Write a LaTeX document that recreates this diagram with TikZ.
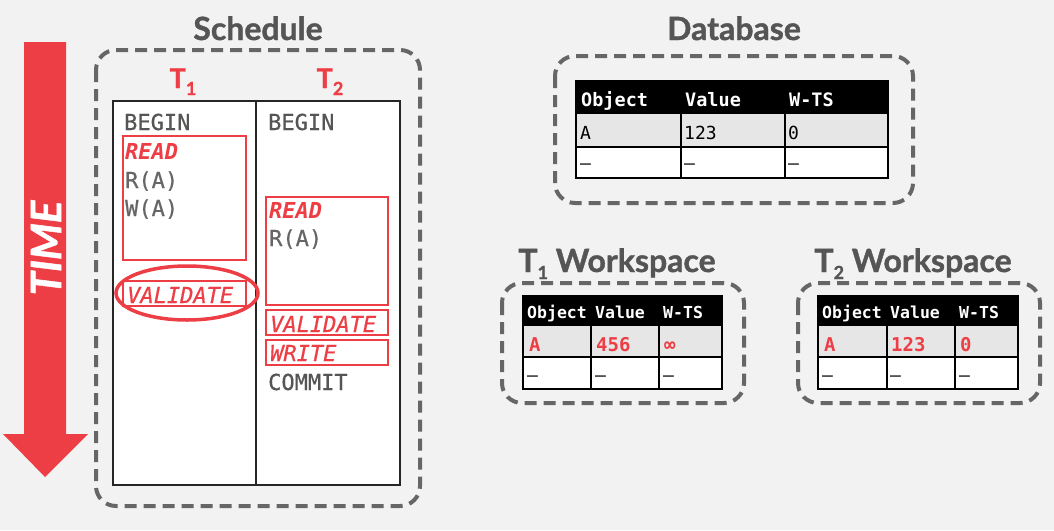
\documentclass[tikz,border=0pt]{standalone}
\usepackage{fontspec}
\setmainfont{Lato}
\newfontfamily\heavy[BoldFeatures={FakeBold=1.2}, BoldItalicFeatures={FakeBold=1.2}]{Lato}
\newfontfamily\mono{DejaVu Sans Mono}
\newfontfamily\monomed[FakeBold=0.6]{DejaVu Sans Mono}
\definecolor{bg}{HTML}{F2F2F2}
\definecolor{accent}{HTML}{EE3E45}
\definecolor{ink}{HTML}{555555}
\definecolor{soft}{HTML}{666666}
\definecolor{dash}{HTML}{666666}
\definecolor{rowgray}{HTML}{E6E6E6}
\tikzset{
  dashbox/.style={draw=dash, line width=4pt, dash pattern=on 12pt off 7pt, rounded corners=20pt},
  title/.style={font=\heavy\fontsize{32}{32}\selectfont\bfseries, text=ink, anchor=base, inner sep=0pt},
  tlabel/.style={font=\heavy\fontsize{27}{27}\selectfont\bfseries, text=accent, anchor=base, inner sep=0pt},
  op/.style={font=\monomed\fontsize{22}{22}\selectfont, anchor=base west, inner sep=0pt},
  phase/.style={font=\monomed\fontsize{22}{22}\selectfont\itshape, text=accent, anchor=base west, inner sep=0pt},
  phasebox/.style={draw=accent, line width=1.2pt, fill=white},
  hdr/.style={font=\mono\fontsize{18.5}{18.5}\selectfont\bfseries, text=white, anchor=base west, inner sep=0pt},
  cell/.style={font=\mono\fontsize{18}{18}\selectfont, text=black, anchor=base west, inner sep=0pt},
  whdr/.style={font=\mono\fontsize{16.5}{16.5}\selectfont\bfseries, text=white, anchor=base west, inner sep=0pt},
  wcell/.style={font=\mono\fontsize{19}{19}\selectfont\bfseries, text=accent, anchor=base west, inner sep=0pt},
  wdash/.style={font=\mono\fontsize{18}{18}\selectfont, text=black, anchor=base west, inner sep=0pt},
  grid/.style={draw=black, line width=2pt},
}
\newcommand\sub[1]{{\fontsize{18}{18}\selectfont\raisebox{-7pt}{#1}}}
\begin{document}
\begin{tikzpicture}[x=1pt, y=-1pt]
\useasboundingbox (0,0) rectangle (1054,530);
\fill[bg] (0,0) rectangle (1054,530);

% time arrow
\fill[accent] (24,42) -- (66,42) -- (66,434) -- (88,434) -- (45,477) -- (3,434) -- (24,434) -- cycle;
\node (time) [rotate=90, text=white, font=\heavy\fontsize{42}{42}\selectfont\bfseries\itshape, inner sep=0pt] at (46,248) {TIME};

% schedule
\node (schedtitle) [title] at (258,40) {Schedule};
\draw[dashbox] (96,50) rectangle (420,506);
\node (t1) [tlabel] at (183,88) {T\sub{1}};
\node (t2) [tlabel] at (330,88) {T\sub{2}};
\draw[fill=white, draw=black!85, line width=1.2pt] (113,101) rectangle (400,485);
\draw[black!85, line width=1.2pt] (256,101) -- (256,485);

% T1 column
\node (b1) [op, text=ink] at (124,130) {BEGIN};
\draw[phasebox] (123,136) rectangle (246,260);
\node (r1) [phase, font=\mono\fontsize{22}{22}\selectfont\bfseries\itshape] at (125,159) {READ};
\node (ra1) [op, text=soft] at (125,188) {R(A)};
\node (wa1) [op, text=soft] at (125,216) {W(A)};
\draw[phasebox] (123,281) rectangle (246,306);
\node (v1) [phase] at (127,303) {VALIDATE};
\draw[accent, line width=3.5pt] (187,293) ellipse [x radius=71, y radius=27];

% T2 column
\node (b2) [op, text=ink] at (268,130) {BEGIN};
\draw[phasebox] (266,197) rectangle (388,305);
\node (r2) [phase, font=\mono\fontsize{22}{22}\selectfont\bfseries\itshape] at (269,218) {READ};
\node (ra2) [op, text=soft] at (269,246) {R(A)};
\draw[phasebox] (266,310) rectangle (388,335);
\node (v2) [phase] at (270,332) {VALIDATE};
\draw[phasebox] (266,340) rectangle (388,365);
\node (w2) [phase] at (270,361) {WRITE};
\node (c2) [op, text=ink] at (268,390) {COMMIT};

% database
\node (dbtitle) [title] at (734,40) {Database};
\draw[dashbox] (555,56) rectangle (913,203);
\fill[black] (576,81) rectangle (888,113);
\fill[rowgray] (576,113) rectangle (888,147);
\fill[white] (576,147) rectangle (888,178);
\draw[grid] (576,81) rectangle (888,178);
\draw[grid] (576,113) -- (888,113) (576,147) -- (888,147);
\draw[grid] (681,113) -- (681,178) (785,113) -- (785,178);
\node (dbh1) [hdr] at (581,106) {Object};
\node (dbh2) [hdr] at (685,106) {Value};
\node (dbh3) [hdr] at (789,106) {W-TS};
\node (dba1) [cell] at (580,139) {A};
\node (dba2) [cell] at (684,139) {123};
\node (dba3) [cell] at (788,139) {0};
\node (dbd1) [cell] at (580,169) {–};
\node (dbd2) [cell] at (684,169) {–};
\node (dbd3) [cell] at (788,169) {–};

% T1 workspace
\node (w1title) [title] at (617,272) {T\sub{1} Workspace};
\draw[dashbox] (502,283) rectangle (744,403);
\fill[black] (523,296) rectangle (722,325);
\fill[rowgray] (523,325) rectangle (722,357);
\fill[white] (523,357) rectangle (722,389);
\draw[grid] (523,296) rectangle (722,389);
\draw[grid] (523,325) -- (722,325) (523,357) -- (722,357);
\draw[grid] (591,325) -- (591,389) (659,325) -- (659,389);
\node (w1h1) [whdr] at (527,318) {Object};
\node (w1h2) [whdr] at (595,318) {Value};
\node (w1h3) [whdr] at (663,318) {W-TS};
\node (w1a1) [wcell] at (529,351) {A};
\node (w1a2) [wcell] at (596,351) {456};
\node (w1a3) [wcell] at (664,351) {∞};
\node (w1d1) [wdash] at (527,381) {–};
\node (w1d2) [wdash] at (595,381) {–};
\node (w1d3) [wdash] at (663,381) {–};

% T2 workspace
\node (w2title) [title] at (913,272) {T\sub{2} Workspace};
\draw[dashbox] (798,283) rectangle (1040,403);
\fill[black] (818,296) rectangle (1018,325);
\fill[rowgray] (818,325) rectangle (1018,357);
\fill[white] (818,357) rectangle (1018,389);
\draw[grid] (818,296) rectangle (1018,389);
\draw[grid] (818,325) -- (1018,325) (818,357) -- (1018,357);
\draw[grid] (887,325) -- (887,389) (955,325) -- (955,389);
\node (w2h1) [whdr] at (822,318) {Object};
\node (w2h2) [whdr] at (890,318) {Value};
\node (w2h3) [whdr] at (959,318) {W-TS};
\node (w2a1) [wcell] at (824,351) {A};
\node (w2a2) [wcell] at (891,351) {123};
\node (w2a3) [wcell] at (960,351) {0};
\node (w2d1) [wdash] at (822,381) {–};
\node (w2d2) [wdash] at (890,381) {–};
\node (w2d3) [wdash] at (959,381) {–};
\end{tikzpicture}
\end{document}
